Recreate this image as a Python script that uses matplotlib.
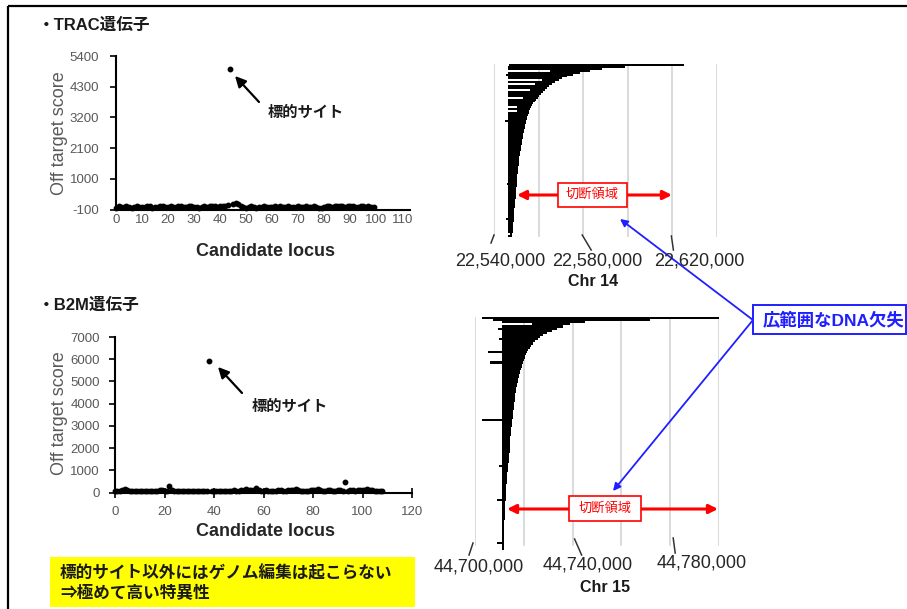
import numpy as np
import matplotlib
matplotlib.use("Agg")
import matplotlib.pyplot as plt
from matplotlib.patches import Rectangle

plt.rcParams["font.family"] = ["Liberation Sans", "Noto Sans CJK JP", "DejaVu Sans"]
plt.rcParams["axes.unicode_minus"] = False

W, H = 907, 609

# ── Data ───────────────────────────────────────────────────────────────────────

# TRAC off-target scores, candidate loci 0..99 (locus 44 = target site)
trac_loci = list(range(0, 100))
trac_score = [-30, 10, -20, 0, 20, -10, -40, 0, 10, -20,
              -10, 0, 20, 10, -30, -10, 0, 10, 20, 0,
              -10, 10, 0, -20, 10, 30, 0, -10, 20, 10,
              0, -20, -40, -10, 10, 0, 20, 30, 10, 0,
              20, 40, 30, 60, 4930, 80, 120, 90, 40, 0,
              -40, -20, 10, 0, -30, -20, 0, 10, -10, 0,
              -20, 10, 0, 20, -10, 0, 10, -10, -20, 0,
              10, 0, -20, 10, 0, -10, 20, 0, -30, -40,
              -20, 10, 30, 0, 20, 40, 10, 30, 0, 20,
              40, 10, 0, -20, 10, 30, 0, 10, -10, 0]
trac_xticks = [0, 10, 20, 30, 40, 50, 60, 70, 80, 90, 100, 110]
trac_yticks = [-100, 1000, 2100, 3200, 4300, 5400]

# B2M off-target scores, candidate loci 0..108 (locus 38 = target site)
b2m_loci = list(range(0, 109))
b2m_score = [80, 90, 70, 100, 160, 120, 80, 60, 70, 90,
             80, 70, 90, 80, 60, 70, 80, 90, 120, 100,
             80, 90, 300, 110, 90, 80, 70, 90, 80, 60,
             70, 80, 90, 70, 60, 80, 90, 70, 5920, 80,
             60, 70, 80, 90, 70, 60, 80, 90, 100, 80,
             90, 110, 120, 150, 100, 120, 140, 200, 110, 90,
             80, 100, 90, 70, 80, 90, 100, 110, 90, 80,
             100, 120, 110, 160, 100, 90, 80, 70, 90, 100,
             110, 120, 160, 100, 80, 90, 110, 100, 80, 90,
             100, 110, 90, 470, 80, 100, 110, 90, 120, 100,
             110, 130, 180, 120, 100, 90, 80, 70, 60]
b2m_xticks = [0, 20, 40, 60, 80, 100, 120]
b2m_yticks = [0, 1000, 2000, 3000, 4000, 5000, 6000, 7000]

# Chr 14 deletions (start / end, bp), one row per read, sorted by length
chr14_start = [22546800, 22546300, 22546300, 22565000, 22546300, 22545500, 22546300, 22546300, 22561500, 22546300,
               22558300, 22546300, 22546300, 22556100, 22546300, 22546300, 22546300, 22553000, 22546300, 22546300,
               22546300, 22546300, 22550300, 22546300, 22550300, 22546300, 22546300, 22546300, 22546300, 22545000,
               22546300, 22546300, 22546300, 22546300, 22546300, 22546300, 22546300, 22546300, 22546300, 22546300,
               22546300, 22546300, 22546300, 22546300, 22546300, 22546300, 22546300, 22546300, 22546300, 22546300,
               22546300, 22546300, 22546300, 22546300, 22546300, 22546300, 22546300, 22546300, 22546300, 22546300,
               22546300, 22546300, 22545800, 22546300, 22546300, 22546300, 22546300, 22546300, 22546300, 22546300,
               22546300, 22546300, 22546300, 22546300, 22546300, 22546300, 22546300, 22546300, 22546300, 22546300,
               22545600, 22546300, 22546300, 22546300, 22546300, 22546300, 22546300, 22546300, 22547000, 22546300]
chr14_end = [22625400, 22598600, 22588300, 22582900, 22578500, 22575300, 22572600, 22570400, 22569100, 22567300,
             22565900, 22564600, 22563700, 22562800, 22561900, 22561000, 22560300, 22559700, 22559000, 22558300,
             22557700, 22557200, 22556800, 22556300, 22555900, 22555700, 22555300, 22555000, 22554800, 22554500,
             22554200, 22554000, 22553800, 22553700, 22553500, 22553300, 22553200, 22553000, 22552900, 22552700,
             22552600, 22552500, 22552300, 22552100, 22551900, 22551800, 22551600, 22551500, 22551400, 22551300,
             22551200, 22551100, 22551000, 22550900, 22550800, 22550700, 22550600, 22550500, 22550400, 22550300,
             22550250, 22550200, 22550150, 22550100, 22550050, 22550000, 22549950, 22549900, 22549800, 22549700,
             22549600, 22549500, 22549400, 22549300, 22549200, 22549100, 22549000, 22548950, 22548900, 22548850,
             22548800, 22548750, 22548700, 22548650, 22548600, 22548550, 22548400, 22548300, 22548200, 22548000]
chr14_ticks = [22540000, 22560000, 22580000, 22600000, 22620000, 22640000]
chr14_labels = {22540000: "22,540,000", 22580000: "22,580,000", 22620000: "22,620,000"}

# Chr 15 deletions (start / end, bp)
chr15_start = [44703000, 44707500, 44711200, 44723400, 44711200, 44709500, 44711200, 44711200, 44711200, 44711200,
               44710000, 44711200, 44711200, 44711200, 44711200, 44711200, 44705300, 44711200, 44711200, 44711200,
               44711200, 44706200, 44711200, 44711200, 44711200, 44711200, 44711200, 44711200, 44711200, 44711200,
               44711200, 44711200, 44711200, 44711200, 44711200, 44711200, 44711200, 44711200, 44711200, 44711200,
               44711200, 44711200, 44711200, 44711200, 44711200, 44711200, 44711200, 44711200, 44702900, 44711200,
               44711200, 44711200, 44711200, 44711200, 44711200, 44711200, 44711200, 44711200, 44711200, 44711200,
               44711200, 44711200, 44711200, 44711200, 44711200, 44711200, 44711200, 44711200, 44711200, 44711200,
               44710000, 44711200, 44711200, 44711200, 44711200, 44711200, 44711200, 44711200, 44711200, 44711200,
               44711200, 44711200, 44711200, 44711200, 44711200, 44711200, 44709000, 44711200, 44711200, 44711200,
               44711200, 44711200, 44711200, 44711200, 44711200, 44711200, 44711200, 44711200, 44711200, 44711200,
               44711200, 44711200, 44711200, 44711200, 44711200, 44711200, 44709000, 44711200, 44711200, 44711200]
chr15_end = [44800000, 44771900, 44745200, 44739000, 44736100, 44733700, 44731600, 44729600, 44727900, 44726700,
             44725700, 44724600, 44723800, 44723000, 44722400, 44721800, 44721400, 44720900, 44720600, 44720300,
             44720000, 44719700, 44719400, 44719100, 44718800, 44718600, 44718400, 44718200, 44718000, 44717800,
             44717600, 44717400, 44717200, 44717000, 44716800, 44716600, 44716500, 44716400, 44716300, 44716200,
             44716100, 44716000, 44715900, 44715800, 44715700, 44715600, 44715500, 44715400, 44715300, 44715200,
             44715100, 44715000, 44714900, 44714800, 44714700, 44714600, 44714500, 44714450, 44714400, 44714350,
             44714300, 44714250, 44714200, 44714150, 44714100, 44714050, 44714000, 44713900, 44713800, 44713700,
             44713600, 44713500, 44713400, 44713300, 44713200, 44713100, 44713050, 44713000, 44712950, 44712900,
             44712850, 44712800, 44712750, 44712700, 44712650, 44712600, 44712550, 44712500, 44712450, 44712400,
             44712350, 44712300, 44712250, 44712200, 44712150, 44712100, 44712080, 44712060, 44712040, 44712020,
             44712000, 44711980, 44711960, 44711940, 44711920, 44711900, 44711900, 44711900, 44711900, 44711900]
chr15_ticks = [44700000, 44720000, 44740000, 44760000, 44780000, 44800000]
chr15_labels = {44700000: "44,700,000", 44740000: "44,740,000", 44780000: "44,780,000"}


# ── Helpers ────────────────────────────────────────────────────────────────────

fig = plt.figure(figsize=(W / 100, H / 100), dpi=100)


def axes_px(x0, y0, x1, y1):
    return fig.add_axes([x0 / W, 1 - y1 / H, (x1 - x0) / W, (y1 - y0) / H])


def score_panel(ax, loci, score, xlim, xticks, ylim, yticks, xtick_len, xpad, ypad):
    ax.plot(loci, score, "o", ms=3.2, color="black", clip_on=False, zorder=3)
    ax.set(xlim=xlim, ylim=ylim, xticks=xticks, yticks=yticks)
    ax.patch.set_alpha(0)
    for s in ("top", "right"):
        ax.spines[s].set_visible(False)
    for s in ("left", "bottom"):
        ax.spines[s].set_linewidth(1.5)
    ax.tick_params(labelcolor="#595959", labelsize=9.5, width=1.2)
    ax.tick_params(axis="x", direction="inout", length=xtick_len, pad=xpad)
    ax.tick_params(axis="y", direction="out", length=4, pad=ypad)


def deletion_panel(ax, start, end, ticks, grid_ymin):
    rows = np.arange(len(start))
    s, e = np.array(start), np.array(end)
    ax.barh(rows, e - s, left=s, height=1.0, color="black", lw=0, zorder=3)
    ax.set_xlim(ticks[0], ticks[-1])
    ax.set_ylim(len(start) - 0.5, -0.5)
    ax.set_xticks([])
    ax.set_yticks([])
    for t in ticks:
        ax.axvline(t, ymin=grid_ymin, ymax=1, color="#d4d4d4", lw=1.2, zorder=1)
    for sp in ax.spines.values():
        sp.set_visible(False)
    ax.patch.set_alpha(0)


def xpix(ax, v):
    # figure-pixel x (from left) of a data value
    return ax.transData.transform((v, 0))[0]


# ── TRAC panel ─────────────────────────────────────────────────────────────────

ax_trac = axes_px(116, 56, 410, 209.5)
score_panel(ax_trac, trac_loci, trac_score, (0, 113), trac_xticks,
            (-100, 5400), trac_yticks, 0, 3, 8)

# ── B2M panel ──────────────────────────────────────────────────────────────────

ax_b2m = axes_px(115, 337, 412, 492.7)
score_panel(ax_b2m, b2m_loci, b2m_score, (0, 120), b2m_xticks,
            (0, 7000), b2m_yticks, 7, 6, 7)

# ── Chr 14 / Chr 15 deletion panels ────────────────────────────────────────────

ax14 = axes_px(494, 64, 717, 237)
deletion_panel(ax14, chr14_start, chr14_end, chr14_ticks, 0)

ax15 = axes_px(475, 317, 719, 550)
deletion_panel(ax15, chr15_start, chr15_end, chr15_ticks, 0.02)

# ── Overlay (frame, labels, annotations) in figure pixels ──────────────────────

ov = fig.add_axes([0, 0, 1, 1])
ov.set_xlim(0, W)
ov.set_ylim(H, 0)
ov.axis("off")
ov.patch.set_alpha(0)
ov.set_zorder(10)

ov.plot([8, W], [6, 6], color="black", lw=1.6, solid_capstyle="butt")
ov.plot([8, 8], [6, H], color="black", lw=1.6, solid_capstyle="butt")

ov.text(38, 25, "・TRAC遺伝子", fontsize=12, fontweight="bold", va="center", color="#1a1a1a")
ov.text(38, 305, "・B2M遺伝子", fontsize=12, fontweight="bold", va="center", color="#1a1a1a")

for y, yc in [(133, 252), (413, 532)]:
    ov.text(59, y, "Off target score", fontsize=13, color="#595959",
            rotation=90, ha="center", va="center")
    ov.text(265, yc, "Candidate locus", fontsize=13, fontweight="bold",
            color="#262626", ha="center", va="center")

# target-site arrows
for head, tail, txt in [((235, 76), (259, 102), (268, 113)),
                        ((218, 367), (242, 393), (252, 407))]:
    ov.annotate("", xy=head, xytext=tail,
                arrowprops=dict(arrowstyle="-|>", color="black", lw=1.6,
                                mutation_scale=16, shrinkA=0, shrinkB=0))
    ov.text(txt[0], txt[1], "標的サイト", fontsize=11, fontweight="bold",
            va="center", color="#1a1a1a")

# Chr tick labels and slanted tick marks
tick_style14 = {22540000: (6, 24, (0, 235, -3, 243)),
                22580000: (14, 24, (-1, 235, 8, 250)),
                22620000: (27, 24, (-1, 236, 1, 250))}
for t, lab in chr14_labels.items():
    xp = xpix(ax14, t)
    dx, dy, (a, y0, b, y1) = tick_style14[t]
    ov.text(xp + dx, 237 + dy, lab, fontsize=13, color="#262626", ha="center", va="center")
    ov.plot([xp + a, xp + b], [y0, y1], color="#333333", lw=1.1)
ov.text(593, 282, "Chr 14", fontsize=11.5, fontweight="bold", color="#1a1a1a",
        ha="center", va="center")

tick_style15 = {44700000: (4, 567, (-2, 543, -6, 555)),
                44740000: (15, 565, (2, 539, 9, 555)),
                44780000: (31, 563, (3, 538, 5, 553))}
for t, lab in chr15_labels.items():
    xp = xpix(ax15, t)
    dx, yl, (a, y0, b, y1) = tick_style15[t]
    ov.text(xp + dx, yl, lab, fontsize=13, color="#262626", ha="center", va="center")
    ov.plot([xp + a, xp + b], [y0, y1], color="#333333", lw=1.1)
ov.text(605, 588, "Chr 15", fontsize=11.5, fontweight="bold", color="#1a1a1a",
        ha="center", va="center")

# cut region (red)
for (x0, x1, y), (bx, by, bw, bh) in [((517, 672, 195), (558, 183, 69, 24)),
                                      ((507, 718, 509), (569, 496, 72, 25))]:
    ov.annotate("", xy=(x1, y), xytext=(x0, y),
                arrowprops=dict(arrowstyle="<|-|>", color="#ff0000", lw=2.2,
                                mutation_scale=13, shrinkA=0, shrinkB=0), zorder=2)
    ov.add_patch(Rectangle((bx, by), bw, bh, facecolor="white", edgecolor="#ff0000",
                           lw=1.2, zorder=4))
    ov.text(bx + bw / 2, by + bh / 2, "切断領域", fontsize=9.5, color="#ff0000",
            ha="center", va="center", zorder=5)

# large deletion callout (blue)
for head in [(620, 219), (613, 491)]:
    ov.annotate("", xy=head, xytext=(753, 320),
                arrowprops=dict(arrowstyle="-|>", color="#1f1fff", lw=1.3,
                                mutation_scale=11, shrinkA=0, shrinkB=0), zorder=2)
ov.add_patch(Rectangle((753, 305), 153, 29, facecolor="white", edgecolor="#1f1fff",
                       lw=1.4, zorder=4))
ov.text(763, 320, "広範囲なDNA欠失", fontsize=12.5, fontweight="bold", color="#1f1fff",
        va="center", zorder=5)

# conclusion box (yellow)
ov.add_patch(Rectangle((50, 557), 365, 50, facecolor="#ffff00", edgecolor="none"))
ov.text(60, 573, "標的サイト以外にはゲノム編集は起こらない", fontsize=12, fontweight="bold",
        color="#1a1a1a", va="center")
ov.text(60, 593, "⇒極めて高い特異性", fontsize=12, fontweight="bold",
        color="#1a1a1a", va="center")

fig.savefig("out.png", dpi=100)
